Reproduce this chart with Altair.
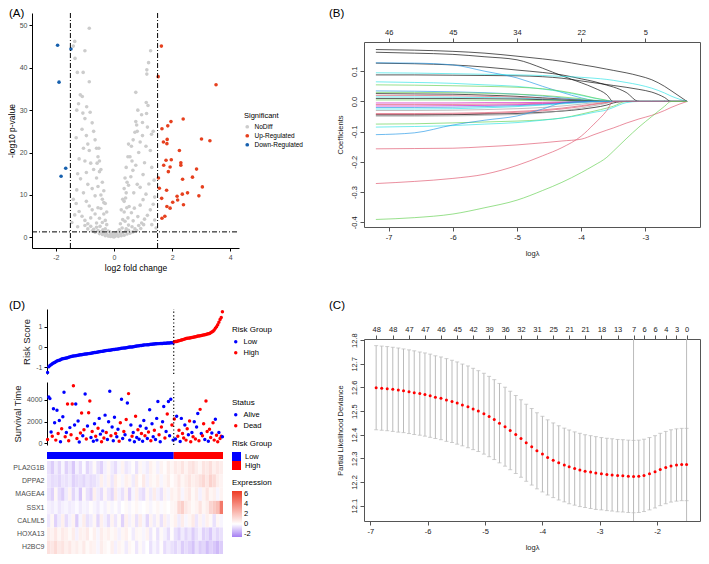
import altair as alt
import pandas as pd

FONT = "Liberation Sans"
W, H = 693, 548
MINUS = "replace(datum.label, '\u2212', '-')"

# ---------- panel placement inside the canvas (pixel ranges of each plot area) ----------
A_X, A_Y = [24, 231], [240, 5]
B_X, B_Y = [356, 692], [219, 34]
C_X, C_Y = [356, 692], [513, 331]
D_X = [39, 215]
RISK_Y, SURV_Y = [366, 301], [437, 374]
BAR_Y, HEAT_Y = [444, 451], [453, 546]

# ================= (A) volcano data =================
fc_cut, p_cut = 1.5, 1.3
nodiff_lfc = [
    -0.05, 0.05, -0.15, 0.12, -0.25, 0.22, -0.35, 0.30, -0.45, 0.40,
    -0.55, 0.50, -0.10, 0.10, -0.20, 0.18, -0.30, 0.28, -0.60, 0.62,
    -0.70, 0.72, -0.80, 0.85, 0.00, -0.02, 0.03, -0.08, -0.12, 0.15,
    -0.30, 0.35, -0.40, 0.45, -0.50, 0.55, -0.65, 0.65, -0.75, 0.78,
    -0.90, 0.92, -1.00, 1.02, -0.20, 0.25, -0.38, 0.42, -0.48, 0.50,
    -0.15, 0.20,
    -0.90, 0.95, -1.00, 1.05, -1.10, 1.15, -1.20, 1.25, -0.40, 0.38,
    -0.50, 0.48, -0.65, 0.60, -0.75, 0.70, -0.30, 0.30, -0.85, 0.90,
    -1.30, 1.35, -1.35, 1.40, -0.95, 1.00, -0.55, 0.52, -0.25, 0.22,
    -0.60, 0.66, -0.80, 0.82, -1.25, 1.30, -1.45, 1.45, -0.35, 0.35,
    -0.45, 0.44,
    -0.35, 0.35, -0.45, 0.42, -0.55, 0.50, -0.60, 0.58, -0.70, 0.65,
    -0.80, 0.75, -0.90, 0.90, -1.05, 1.10, -1.15, 1.20, -1.25, 1.30,
    -0.95, 1.00, -1.00, 1.05, -1.28, 1.38, -0.40, 0.40, -0.50, 0.45,
    -0.65, 0.68, -0.75, 0.80, -1.40, 1.40, -1.20, 1.25,
    -0.55, 0.55, -0.60, 0.60, -0.65, 0.66, -0.70, 0.72, -0.75, 0.78,
    -0.85, 0.85, -0.90, 0.90, -0.95, 0.98, -1.05, 1.10, -1.10, 1.15,
    -1.00, 0.95, -1.30, 1.35, -1.07, 1.12, -0.82, 0.82, -0.58, 0.62,
    1.29, 0.75, 0.80, 0.98,
    -0.85, -1.35, -1.40, -1.00, -1.34, -1.26, -1.06, -0.85, -1.16, -1.09,
    -1.22, -1.28, -0.94, 1.26, 1.19, 1.13, 1.13, 0.75, 1.11, 1.17,
    -0.25, -0.30, -0.35, -0.40, -0.45, -0.50, -0.52, 0.25, 0.30, 0.35,
    0.38, 0.42, 0.48, 0.50,
]
nodiff_p = [
    0.2, 0.3, 0.5, 0.6, 0.8, 0.9, 1.0, 1.1, 1.3, 1.4,
    1.6, 1.7, 1.0, 1.2, 1.5, 1.8, 2.0, 2.2, 2.4, 2.5,
    1.9, 2.0, 2.6, 2.8, 0.1, 0.6, 0.8, 0.4, 0.2, 0.25,
    0.4, 0.5, 0.7, 0.8, 0.9, 1.0, 1.2, 1.3, 1.5, 1.6,
    2.0, 2.1, 2.8, 3.0, 0.3, 0.4, 1.8, 2.0, 2.6, 2.9,
    1.3, 1.5,
    3.2, 3.4, 4.0, 4.3, 5.0, 5.2, 6.1, 6.5, 3.5, 3.8,
    4.5, 4.6, 5.5, 5.8, 6.5, 6.9, 4.0, 4.2, 7.4, 7.6,
    8.0, 7.8, 5.3, 4.1, 8.5, 8.9, 7.0, 7.3, 3.0, 3.2,
    3.4, 3.9, 4.6, 4.9, 2.5, 3.0, 3.5, 2.2, 5.5, 6.0,
    6.8, 7.0,
    8.2, 8.5, 10.0, 10.5, 12.0, 12.3, 14.0, 14.3, 16.0, 15.8,
    17.5, 17.0, 12.5, 11.8, 10.5, 10.2, 13.8, 12.6, 15.0, 16.5,
    15.3, 14.8, 18.0, 17.6, 11.2, 13.5, 9.0, 9.3, 15.5, 13.0,
    9.8, 10.5, 11.5, 12.5, 9.0, 9.5, 18.5, 20.5,
    19.0, 19.0, 21.0, 21.5, 23.0, 23.0, 25.0, 24.8, 27.0, 26.5,
    20.5, 20.0, 22.0, 22.5, 24.0, 24.0, 21.0, 21.5, 25.5, 26.0,
    28.0, 28.9, 23.5, 25.0, 29.3, 29.2, 29.5, 30.0, 17.5, 18.0,
    24.3, 27.3, 25.0, 27.1,
    49.3, 46.2, 45.1, 44.0, 42.2, 38.9, 38.9, 36.7, 33.6, 33.2,
    31.5, 30.0, 30.8, 44.0, 41.2, 39.5, 38.5, 34.2, 31.8, 31.1,
    6.0, 8.0, 11.0, 13.0, 16.0, 18.0, 21.0, 6.5, 9.0, 11.5,
    14.0, 16.5, 19.0, 22.0,
]
up_lfc = [1.63, 1.52, 3.51, 2.38, 1.96, 1.85, 1.65, 1.83, 1.70, 1.82,
          3.01, 3.30, 2.25, 1.97, 1.79, 2.30, 2.30, 1.71, 1.93, 2.84,
          1.87, 2.70, 2.36, 1.53, 3.04, 1.56, 1.81, 2.53, 2.35, 2.17,
          2.92, 1.64, 2.19, 2.02, 2.39, 1.82, 1.93, 1.75, 1.65]
up_p = [45.1, 37.9, 36.0, 27.9, 27.3, 26.3, 25.6, 23.1, 22.5, 22.1,
        23.2, 22.8, 20.5, 18.3, 18.2, 17.6, 17.0, 17.0, 16.6, 16.1,
        15.5, 14.2, 13.7, 14.0, 11.9, 11.6, 11.1, 10.5, 10.2, 9.7,
        9.8, 9.2, 8.8, 8.3, 7.7, 7.3, 6.9, 5.0, 4.5]
down_lfc = [-1.94, -1.48, -1.89, -1.66, -1.82]
down_p = [45.3, 44.4, 36.6, 16.3, 14.4]
sig_levels = ["NoDiff", "Up-Regulated", "Down-Regulated"]
sig_colors = ["#CCCCCC", "#E6401E", "#1660AE"]

# ================= (B) lasso coefficient paths =================
grid_b = [-7.2, -6.6, -6.0, -5.5, -5.0, -4.6, -4.3, -4.0, -3.8, -3.6, -3.5, -3.3, -3.1, -2.9, -2.7, -2.6, -2.35]
K, R, G, BL, CY, M, GR = "#000000", "#DF536B", "#61D04F", "#2297E6", "#28E2E5", "#CD0BBC", "#9E9E9E"
coef_colors = [K, K, K, K, BL, CY, CY, G, BL, G, K, R, CY, K, G, M, R, M, BL, CY, GR, R, R, K, GR,
               G, CY, BL, R, R, G]
coef_paths = [
    [0.172, 0.170, 0.166, 0.160, 0.150, 0.141, 0.133, 0.122, 0.115, 0.107, 0.103, 0.095, 0.085, 0.072, 0.050, 0.036, 0.0],
    [0.163, 0.160, 0.156, 0.148, 0.138, 0.110, 0.085, 0.062, 0.045, 0.022, 0.0, 0.0, 0.0, 0.0, 0.0, 0.0, 0.0],
    [0.127, 0.125, 0.121, 0.114, 0.104, 0.096, 0.088, 0.075, 0.066, 0.054, 0.048, 0.030, 0.0, 0.0, 0.0, 0.0, 0.0],
    [0.088, 0.088, 0.087, 0.086, 0.085, 0.082, 0.077, 0.068, 0.062, 0.056, 0.053, 0.047, 0.040, 0.031, 0.013, 0.0, 0.0],
    [0.128, 0.127, 0.121, 0.100, 0.078, 0.050, 0.030, 0.012, 0.003, 0.0, 0.0, 0.0, 0.0, 0.0, 0.0, 0.0, 0.0],
    [0.095, 0.094, 0.092, 0.090, 0.088, 0.086, 0.083, 0.080, 0.077, 0.073, 0.070, 0.063, 0.055, 0.044, 0.028, 0.018, 0.0],
    [0.065, 0.063, 0.060, 0.055, 0.050, 0.041, 0.032, 0.020, 0.011, 0.003, 0.0, 0.0, 0.0, 0.0, 0.0, 0.0, 0.0],
    [0.055, 0.054, 0.052, 0.050, 0.047, 0.042, 0.034, 0.022, 0.012, 0.004, 0.0, 0.0, 0.0, 0.0, 0.0, 0.0, 0.0],
    [0.035, 0.034, 0.032, 0.029, 0.024, 0.018, 0.012, 0.006, 0.002, 0.0, 0.0, 0.0, 0.0, 0.0, 0.0, 0.0, 0.0],
    [0.030, 0.030, 0.029, 0.027, 0.024, 0.020, 0.015, 0.009, 0.004, 0.001, 0.0, 0.0, 0.0, 0.0, 0.0, 0.0, 0.0],
    [0.026, 0.025, 0.024, 0.021, 0.017, 0.012, 0.008, 0.004, 0.001, 0.0, 0.0, 0.0, 0.0, 0.0, 0.0, 0.0, 0.0],
    [0.020, 0.020, 0.019, 0.017, 0.014, 0.010, 0.006, 0.002, 0.0, 0.0, 0.0, 0.0, 0.0, 0.0, 0.0, 0.0, 0.0],
    [0.015, 0.015, 0.014, 0.013, 0.011, 0.008, 0.005, 0.002, 0.0, 0.0, 0.0, 0.0, 0.0, 0.0, 0.0, 0.0, 0.0],
    [0.010, 0.010, 0.010, 0.009, 0.008, 0.006, 0.004, 0.002, 0.0, 0.0, 0.0, 0.0, 0.0, 0.0, 0.0, 0.0, 0.0],
    [0.005, 0.005, 0.005, 0.004, 0.004, 0.003, 0.002, 0.001, 0.0, 0.0, 0.0, 0.0, 0.0, 0.0, 0.0, 0.0, 0.0],
    [-0.005, -0.005, -0.005, -0.004, -0.004, -0.003, -0.002, -0.001, 0.0, 0.0, 0.0, 0.0, 0.0, 0.0, 0.0, 0.0, 0.0],
    [-0.010, -0.010, -0.010, -0.009, -0.008, -0.006, -0.004, -0.002, 0.0, 0.0, 0.0, 0.0, 0.0, 0.0, 0.0, 0.0, 0.0],
    [-0.015, -0.015, -0.014, -0.013, -0.011, -0.008, -0.005, -0.002, 0.0, 0.0, 0.0, 0.0, 0.0, 0.0, 0.0, 0.0, 0.0],
    [-0.020, -0.020, -0.019, -0.017, -0.014, -0.010, -0.006, -0.002, 0.0, 0.0, 0.0, 0.0, 0.0, 0.0, 0.0, 0.0, 0.0],
    [-0.025, -0.025, -0.024, -0.021, -0.017, -0.012, -0.008, -0.004, -0.001, 0.0, 0.0, 0.0, 0.0, 0.0, 0.0, 0.0, 0.0],
    [-0.030, -0.030, -0.029, -0.027, -0.024, -0.020, -0.015, -0.009, -0.004, -0.001, 0.0, 0.0, 0.0, 0.0, 0.0, 0.0, 0.0],
    [-0.040, -0.040, -0.039, -0.037, -0.033, -0.028, -0.022, -0.014, -0.008, -0.003, 0.0, 0.0, 0.0, 0.0, 0.0, 0.0, 0.0],
    [-0.043, -0.043, -0.042, -0.040, -0.036, -0.031, -0.025, -0.017, -0.010, -0.004, 0.0, 0.0, 0.0, 0.0, 0.0, 0.0, 0.0],
    [-0.045, -0.045, -0.044, -0.042, -0.040, -0.036, -0.032, -0.026, -0.020, -0.012, -0.005, 0.0, 0.0, 0.0, 0.0, 0.0, 0.0],
    [-0.049, -0.049, -0.048, -0.046, -0.043, -0.038, -0.031, -0.022, -0.014, -0.006, 0.0, 0.0, 0.0, 0.0, 0.0, 0.0, 0.0],
    [-0.075, -0.074, -0.071, -0.068, -0.065, -0.061, -0.055, -0.042, -0.032, -0.022, -0.016, 0.0, 0.0, 0.0, 0.0, 0.0, 0.0],
    [-0.085, -0.083, -0.080, -0.075, -0.070, -0.062, -0.055, -0.045, -0.036, -0.028, -0.020, -0.004, 0.0, 0.0, 0.0, 0.0, 0.0],
    [-0.110, -0.104, -0.078, -0.062, -0.048, -0.025, -0.005, 0.0, 0.0, 0.0, 0.0, 0.0, 0.0, 0.0, 0.0, 0.0, 0.0],
    [-0.157, -0.156, -0.155, -0.150, -0.144, -0.137, -0.131, -0.125, -0.110, -0.095, -0.088, -0.072, -0.058, -0.046, -0.030, -0.020, 0.0],
    [-0.272, -0.265, -0.255, -0.241, -0.212, -0.180, -0.153, -0.115, -0.075, -0.030, 0.0, 0.0, 0.0, 0.0, 0.0, 0.0, 0.0],
    [-0.391, -0.385, -0.373, -0.352, -0.327, -0.295, -0.268, -0.236, -0.212, -0.185, -0.165, -0.124, -0.085, -0.050, -0.016, 0.0, 0.0],
]
b_top_pos = [-7, -6, -5, -4, -3]
b_top_lab = ["46", "45", "34", "22", "5"]

# ================= (C) cross-validation curve =================
c_loglam = [-6.898, -6.801, -6.705, -6.608, -6.512, -6.421, -6.325, -6.234, -6.137, -6.047,
            -5.956, -5.865, -5.768, -5.672, -5.575, -5.485, -5.394, -5.297, -5.207, -5.116,
            -5.019, -4.928, -4.838, -4.747, -4.650, -4.560, -4.463, -4.372, -4.281, -4.185,
            -4.094, -3.998, -3.907, -3.810, -3.714, -3.617, -3.532, -3.436, -3.345, -3.254,
            -3.158, -3.067, -2.970, -2.874, -2.783, -2.687, -2.596, -2.500, -2.409, -2.318,
            -2.227, -2.131, -2.034, -1.943, -1.847, -1.756, -1.660, -1.569, -1.484]
c_mean = [12.599, 12.597, 12.595, 12.592, 12.589, 12.586, 12.582, 12.578, 12.574, 12.570,
          12.565, 12.559, 12.554, 12.547, 12.541, 12.534, 12.526, 12.518, 12.509, 12.500,
          12.489, 12.477, 12.464, 12.449, 12.434, 12.418, 12.401, 12.384, 12.366, 12.349,
          12.332, 12.318, 12.304, 12.292, 12.281, 12.272, 12.264, 12.257, 12.251, 12.246,
          12.242, 12.238, 12.235, 12.232, 12.230, 12.227, 12.226, 12.224, 12.223, 12.224,
          12.228, 12.235, 12.243, 12.253, 12.261, 12.268, 12.272, 12.274, 12.274]
c_se = [0.178, 0.178, 0.178, 0.178, 0.178, 0.177, 0.177, 0.177, 0.176, 0.176,
        0.176, 0.175, 0.175, 0.175, 0.174, 0.174, 0.173, 0.173, 0.172, 0.171,
        0.171, 0.170, 0.169, 0.168, 0.167, 0.166, 0.165, 0.164, 0.163, 0.162,
        0.161, 0.160, 0.159, 0.158, 0.157, 0.156, 0.156, 0.155, 0.155, 0.154,
        0.154, 0.154, 0.153, 0.153, 0.153, 0.153, 0.153, 0.153, 0.153, 0.153,
        0.153, 0.153, 0.153, 0.153, 0.153, 0.153, 0.153, 0.153, 0.153]
c_top_pos = [-6.898, -6.608, -6.325, -6.047, -5.768, -5.485, -5.207, -4.928, -4.650, -4.372, -4.094,
             -3.810, -3.532, -3.254, -2.970, -2.687, -2.409, -2.227, -2.034, -1.847, -1.660, -1.484]
c_top_lab = ["48", "48", "47", "47", "46", "45", "42", "39", "36", "32", "31",
             "25", "21", "21", "18", "13", "7", "6", "6", "4", "3", "0"]
c_vlines = [-2.409, -1.484]

# ================= (D) risk score / survival / heatmap =================
risk_score = [
    -1.25, -0.97, -0.90, -0.86, -0.82, -0.78, -0.76, -0.72, -0.68,
    -0.66, -0.64, -0.62, -0.58, -0.57,
    -0.56, -0.55, -0.53, -0.52, -0.50, -0.48, -0.46, -0.45,
    -0.44, -0.43, -0.42, -0.41, -0.40, -0.39, -0.38, -0.37, -0.36, -0.35, -0.34,
    -0.34, -0.33, -0.32, -0.31, -0.30, -0.29, -0.28, -0.27, -0.26, -0.25, -0.24, -0.23,
    -0.22, -0.21, -0.20, -0.19, -0.18, -0.17, -0.16, -0.15, -0.15, -0.14, -0.13, -0.12, -0.12, -0.11,
    -0.10, -0.09, -0.08, -0.07, -0.06, -0.05, -0.04, -0.04, -0.03, -0.02, -0.01, 0.00, 0.00,
    0.01, 0.02, 0.03, 0.04, 0.05, 0.06, 0.07, 0.08, 0.08, 0.09, 0.10,
    0.11, 0.11, 0.12, 0.12, 0.13, 0.14, 0.14, 0.15, 0.15, 0.16, 0.16, 0.17, 0.17, 0.18,
    0.18, 0.18, 0.19, 0.19, 0.19, 0.20, 0.20, 0.20, 0.21, 0.21, 0.21,
    0.26, 0.27, 0.28, 0.30, 0.31, 0.33, 0.35, 0.36, 0.38, 0.40, 0.42,
    0.43, 0.44, 0.45, 0.46, 0.47, 0.48, 0.50, 0.51, 0.52, 0.54, 0.55,
    0.56, 0.57, 0.58, 0.60, 0.61, 0.62, 0.64, 0.66,
    0.67, 0.70, 0.74, 0.78, 0.84, 0.92, 1.00, 1.10, 1.22, 1.35, 1.45, 1.74,
]
n_low = 108
surv_time = [
    350, 4260, 4120, 1050, 650, 3190, 1900, 300, 3040, 900,
    2100, 150, 1350, 2450, 4700, 600, 1000, 3620, 250, 1450,
    800, 3620, 5300, 1700, 3620, 450, 2050, 120, 950, 2800,
    700, 1250, 4550, 400, 1600, 2810, 3910, 550, 1100, 200,
    1800, 650, 300, 1400, 2300, 850, 150, 1150, 500, 2600,
    1000, 350, 2000, 4800, 700, 1500, 250, 2400, 900, 600,
    1300, 200, 1900, 4060, 450, 1100, 800, 2200, 3710, 4580,
    300, 1700, 650, 1000, 150, 2500, 550, 1250, 380, 1600,
    900, 200, 2100, 700, 1400, 450, 1050, 3100, 250, 1800,
    600, 1200, 350, 2300, 3860, 800, 150, 1500, 2000, 3390,
    500, 1100, 2700, 3860, 700, 4060, 1700, 300,
    2250, 400, 2500, 650, 1200, 180, 2300, 900, 500, 1700,
    300, 1350, 800, 2050, 150, 1000, 600, 2000, 400, 1500,
    2750, 250, 3130, 900, 700, 1800, 350, 3910, 1100, 200,
    1300, 550, 950, 1900, 300, 2230, 750, 150, 1000, 450,
    650, 600,
]
surv_dead = [
    1, 0, 0, 0, 1, 0, 0, 1, 0, 1,
    0, 0, 1, 0, 0, 1, 0, 1, 1, 0,
    1, 1, 1, 0, 0, 1, 0, 0, 1, 1,
    0, 1, 0, 1, 0, 1, 1, 0, 1, 0,
    0, 1, 0, 1, 0, 0, 1, 0, 1, 0,
    1, 0, 0, 0, 1, 0, 0, 0, 1, 0,
    0, 1, 1, 0, 0, 1, 0, 1, 0, 1,
    0, 0, 1, 0, 0, 1, 0, 1, 0, 0,
    1, 0, 0, 1, 0, 0, 1, 0, 1, 0,
    0, 1, 0, 0, 0, 1, 0, 1, 0, 0,
    1, 0, 1, 0, 0, 0, 1, 0,
    1, 0, 0, 1, 1, 0, 0, 1, 1, 0,
    1, 1, 0, 1, 1, 0, 1, 0, 1, 0,
    0, 1, 1, 0, 1, 1, 0, 1, 1, 0,
    1, 1, 0, 1, 1, 0, 1, 1, 0, 1,
    1, 0,
]
genes = ["PLA2G1B", "DPPA2", "MAGEA4", "SSX1", "CALML5", "HOXA13", "H2BC9"]
samples_per_col = 3
expr_pla2g1b = [-0.6, -1.0, -0.4, -0.8, -0.2, -0.9, -0.5, -1.1, -0.3, -0.7,
                -0.1, -0.8, -0.5, 0.2, -0.6, -0.9, -0.3, 0.3, -0.4, -0.7,
                -0.2, 0.4, -0.5, -0.3, 0.1, -0.6, 0.3, -0.2, -0.4, 0.5,
                0.2, -0.3, 0.4, 0.1, 0.6, 0.3, 0.7, 0.5, 0.9, 0.4,
                0.8, 1.0, 0.6, 0.3, 0.9, 0.7, 1.1, 0.5, 0.8, 0.6]
expr_dppa2 = [-0.5, -0.7, -0.6, -0.8, -0.5, -0.6, -0.4, -0.9, -0.7, -0.6,
              -0.8, -0.5, -0.7, -0.6, -0.4, 0.5, -0.3, 0.4, -0.5, 0.6,
              0.2, -0.2, 0.5, 0.3, -0.4, 0.6, 0.1, 0.7, -0.3, 0.4,
              0.2, 0.5, -0.2, 0.3, 0.6, 0.1, 0.4, 0.8, 0.3, 0.6,
              0.9, 0.5, 0.7, 1.0, 1.3, 0.8, 1.5, 1.2, 0.6, 0.4]
expr_magea4 = [-0.6, -0.9, 0.3, -0.7, -1.0, -0.4, 0.4, -0.8, -0.3, -1.1,
               0.2, -0.6, -0.9, 0.5, -0.4, -0.7, 0.3, -0.5, -0.8, 0.6,
               -0.3, -0.6, 0.4, -0.9, -0.2, 0.5, -0.5, -0.7, 0.3, -0.4,
               0.6, -0.3, -0.6, 0.4, -0.2, 0.5, 0.3, 0.7, -0.2, 0.5,
               0.8, 0.2, 0.6, -0.3, 0.4, 0.9, 0.3, 0.5, -0.2, 0.4]
expr_ssx1 = [-0.3, -0.4, -0.2, -0.5, -0.3, -0.2, -0.4, -0.3, -0.1, -0.4,
             -0.2, -0.3, 0.1, -0.2, -0.4, -0.1, -0.3, 0.2, -0.2, 0.1,
             -0.3, 0.0, 0.2, -0.2, 0.1, 0.3, -0.1, 0.0, 0.2, -0.2,
             0.1, 0.3, -0.1, 0.2, 0.0, 0.3, 0.4, 1.3, 1.6, 0.8,
             0.5, 0.2, 0.4, 0.9, 0.3, 0.6, 1.4, 1.8, 2.2, 4.5]
expr_calml5 = [-0.5, 0.3, -0.9, -0.4, 0.5, -0.7, -0.3, 0.4, -1.0, -0.2,
               0.6, -0.6, -0.4, 0.3, -0.8, 0.5, -0.3, -0.7, 0.4, -0.5,
               0.2, -0.9, 0.5, -0.3, 0.3, -0.6, 0.6, -0.2, -0.8, 0.4,
               -0.4, 0.3, -0.6, 0.5, -0.3, 0.2, 0.5, -0.4, 0.6, -0.2,
               0.3, 0.7, -0.5, 0.4, -0.3, 0.5, 0.2, -0.6, 0.3, -0.2]
expr_hoxa13 = [0.6, 0.4, 0.8, 0.3, 0.7, 0.5, 0.2, 0.6, -0.3, 0.5,
               0.4, 0.7, 0.1, 0.5, -0.2, 0.6, 0.3, 0.5, 0.2, 0.4,
               -0.3, 0.3, 0.5, 0.1, -0.4, 0.3, 0.2, -0.2, 0.4, -0.5,
               0.1, -0.6, 0.2, -0.3, -0.7, 0.1, -0.6, -0.9, -0.4, -0.8,
               -0.5, -1.0, -0.6, -0.3, -0.9, -0.7, -1.1, -0.5, -0.8, -0.6]
expr_h2bc9 = [1.0, 0.8, 1.2, 0.7, 0.9, 0.5, 0.8, 0.4, 0.6, 0.3,
              0.7, 0.2, 0.5, 0.4, -0.2, 0.6, 0.3, 0.1, 0.5, -0.3,
              0.4, 0.2, -0.4, 0.3, 0.1, -0.5, 0.2, -0.3, 0.0, -0.6,
              -0.2, -0.5, 0.1, -0.7, -0.4, -0.6, -0.8, -0.5, -1.0, -0.7,
              -0.9, -1.2, -0.6, -1.0, -0.8, -1.3, -0.9, -1.1, -1.4, -1.0]
expr_rows = [expr_pla2g1b, expr_dppa2, expr_magea4, expr_ssx1, expr_calml5, expr_hoxa13, expr_h2bc9]


# ---------------- helpers ----------------
def axis(kind, **kw):
    if kind == "gg":
        base = dict(domainColor="#000000", tickColor="#000000", tickSize=3, labelColor="#4D4D4D",
                    labelFontSize=7, titleFontSize=8.5, titleColor="#000000")
    else:
        base = dict(domainColor="#555555", tickColor="#555555", tickSize=4, labelColor="#222222",
                    labelFontSize=7.5, titleFontSize=7.5, titleColor="#222222")
    base.update(dict(domainWidth=1, tickWidth=1, labelFont=FONT, titleFont=FONT, titleFontWeight="normal",
                     grid=False, labelPadding=2, labelExpr=MINUS, labelOverlap=False, labelFlush=False))
    base.update(kw)
    return alt.Axis(**base)


def label_map(vals, labs):
    expr = "''"
    for v, l in reversed(list(zip(vals, labs))):
        expr = f"datum.value == {v} ? '{l}' : {expr}"
    return expr


def legend(title, x, y, **kw):
    base = dict(title=title, orient="none", legendX=x, legendY=y, titleFont=FONT, labelFont=FONT,
                titleFontWeight="normal", titleColor="#000000", labelColor="#000000",
                titleFontSize=8, labelFontSize=7.5, titlePadding=4, rowPadding=2)
    base.update(kw)
    return alt.Legend(**base)


def panel_label(txt, x, y):
    return alt.Chart(pd.DataFrame({"t": [txt]})).mark_text(
        align="left", baseline="top", fontSize=11.5, font=FONT, color="#000000"
    ).encode(text="t:N", x=alt.value(x), y=alt.value(y))


# ================= build (A) =================
A_XDOM, A_YDOM = [-2.82, 4.3], [-2.5, 52.9]
sa_x = alt.Scale(domain=A_XDOM, range=A_X, nice=False, zero=False)
sa_y = alt.Scale(domain=A_YDOM, range=A_Y, nice=False, zero=False)
df_a = pd.DataFrame({
    "lfc": nodiff_lfc + up_lfc + down_lfc,
    "nlp": nodiff_p + up_p + down_p,
    "sig": [sig_levels[0]] * len(nodiff_lfc) + [sig_levels[1]] * len(up_lfc) + [sig_levels[2]] * len(down_lfc),
})
a_pts = alt.Chart(df_a).mark_circle(size=13, opacity=1).encode(
    x=alt.X("lfc:Q", scale=sa_x, axis=axis("gg", values=[-2, 0, 2, 4], title="log2 fold change",
                                          orient="bottom", offset=A_Y[0] - H, titlePadding=3)),
    y=alt.Y("nlp:Q", scale=sa_y, axis=axis("gg", values=[0, 10, 20, 30, 40, 50], title="-log10 p-value",
                                          orient="left", offset=-A_X[0], titlePadding=3)),
    color=alt.Color("sig:N", scale=alt.Scale(domain=sig_levels, range=sig_colors),
                    legend=legend("Significant", 236, 104, symbolType="circle", symbolSize=14,
                                  titleFontSize=7.5, labelFontSize=6.5)),
)
df_av = pd.DataFrame({"lfc": [-fc_cut, fc_cut], "lo": [A_YDOM[0]] * 2, "hi": [A_YDOM[1]] * 2})
a_v = alt.Chart(df_av).mark_rule(color="#000000", strokeDash=[5, 2, 1, 2], strokeWidth=1).encode(
    x=alt.X("lfc:Q", scale=sa_x, axis=None), y=alt.Y("lo:Q", scale=sa_y, axis=None), y2=alt.Y2("hi"))
df_ah = pd.DataFrame({"nlp": [p_cut], "lo": [A_XDOM[0]], "hi": [A_XDOM[1]]})
a_h = alt.Chart(df_ah).mark_rule(color="#000000", strokeDash=[5, 2, 1, 2], strokeWidth=1).encode(
    y=alt.Y("nlp:Q", scale=sa_y, axis=None), x=alt.X("lo:Q", scale=sa_x, axis=None), x2=alt.X2("hi"))
panel_a = alt.layer(a_pts, a_v, a_h, panel_label("(A)", 1, 0)).resolve_axis(x="independent", y="independent")

# ================= build (B) =================
B_XDOM, B_YDOM = [-7.385, -2.148], [-0.416, 0.197]
sb_x = alt.Scale(domain=B_XDOM, range=B_X, nice=False, zero=False)
sb_y = alt.Scale(domain=B_YDOM, range=B_Y, nice=False, zero=False)
path_names = [f"p{k:02d}" for k in range(len(coef_paths))]
df_b = pd.DataFrame([{"path": path_names[k], "loglam": g, "coef": v}
                     for k, vals in enumerate(coef_paths) for g, v in zip(grid_b, vals)])
b_lines = alt.Chart(df_b).mark_line(strokeWidth=1, opacity=0.65, interpolate="monotone").encode(
    x=alt.X("loglam:Q", scale=sb_x, axis=axis("r", values=[-7, -6, -5, -4, -3], title="logλ", orient="bottom",
                                             offset=B_Y[0] - H, titlePadding=9)),
    y=alt.Y("coef:Q", scale=sb_y, axis=axis("r", values=[-0.4, -0.3, -0.2, -0.1, 0.0, 0.1], format=".1f",
                                           title="Coefficients", orient="left", offset=-B_X[0],
                                           labelAngle=270, labelAlign="center", labelBaseline="bottom",
                                           titlePadding=6)),
    color=alt.Color("path:N", scale=alt.Scale(domain=path_names, range=coef_colors), legend=None),
    detail="path:N",
)
b_top = alt.Chart(pd.DataFrame({"loglam": b_top_pos})).mark_point(opacity=0).encode(
    x=alt.X("loglam:Q", scale=sb_x, axis=axis("r", values=b_top_pos, labelExpr=label_map(b_top_pos, b_top_lab),
                                             title=None, orient="top", offset=-B_Y[1])))
b_right = alt.Chart(pd.DataFrame({"coef": [0.0]})).mark_point(opacity=0).encode(
    y=alt.Y("coef:Q", scale=sb_y, axis=axis("r", labels=False, ticks=False, title=None, orient="right",
                                           offset=B_X[1] - W)))
panel_b = alt.layer(b_lines, b_top, b_right, panel_label("(B)", 321, 0)).resolve_axis(x="independent", y="independent")

# ================= build (C) =================
C_XDOM, C_YDOM = [-7.11, -1.25], [12.035, 12.805]
sc_x = alt.Scale(domain=C_XDOM, range=C_X, nice=False, zero=False)
sc_y = alt.Scale(domain=C_YDOM, range=C_Y, nice=False, zero=False)
df_c = pd.DataFrame({"loglam": c_loglam, "dev": c_mean,
                     "lo": [m - s for m, s in zip(c_mean, c_se)], "hi": [m + s for m, s in zip(c_mean, c_se)]})
c_bars = alt.Chart(df_c).mark_rule(color="#BBBBBB", strokeWidth=1).encode(
    x=alt.X("loglam:Q", scale=sc_x, axis=axis("r", values=[-7, -6, -5, -4, -3, -2], title="logλ",
                                             orient="bottom", offset=C_Y[0] - H, titlePadding=9)),
    y=alt.Y("lo:Q", scale=sc_y, axis=axis("r", values=[12.1, 12.2, 12.3, 12.4, 12.5, 12.6, 12.7, 12.8],
                                         format=".1f", title="Partial Likelihood Deviance", orient="left",
                                         offset=-C_X[0], labelAngle=270, labelAlign="center",
                                         labelBaseline="bottom", titlePadding=6)),
    y2=alt.Y2("hi"),
)
c_cap_lo = alt.Chart(df_c).mark_tick(orient="horizontal", size=4, thickness=1, color="#BBBBBB").encode(
    x=alt.X("loglam:Q", scale=sc_x, axis=None), y=alt.Y("lo:Q", scale=sc_y, axis=None))
c_cap_hi = alt.Chart(df_c).mark_tick(orient="horizontal", size=4, thickness=1, color="#BBBBBB").encode(
    x=alt.X("loglam:Q", scale=sc_x, axis=None), y=alt.Y("hi:Q", scale=sc_y, axis=None))
df_cv = pd.DataFrame({"loglam": c_vlines, "lo": [C_YDOM[0]] * 2, "hi": [C_YDOM[1]] * 2})
c_v = alt.Chart(df_cv).mark_rule(color="#BBBBBB", strokeWidth=1).encode(
    x=alt.X("loglam:Q", scale=sc_x, axis=None), y=alt.Y("lo:Q", scale=sc_y, axis=None), y2=alt.Y2("hi"))
c_pts = alt.Chart(df_c).mark_circle(size=9, color="#FF0000", opacity=1).encode(
    x=alt.X("loglam:Q", scale=sc_x, axis=None), y=alt.Y("dev:Q", scale=sc_y, axis=None))
c_top = alt.Chart(pd.DataFrame({"loglam": c_top_pos})).mark_point(opacity=0).encode(
    x=alt.X("loglam:Q", scale=sc_x, axis=axis("r", values=c_top_pos, labelExpr=label_map(c_top_pos, c_top_lab),
                                             title=None, orient="top", offset=-C_Y[1])))
c_right = alt.Chart(pd.DataFrame({"lo": [12.4]})).mark_point(opacity=0).encode(
    y=alt.Y("lo:Q", scale=sc_y, axis=axis("r", labels=False, ticks=False, title=None, orient="right",
                                         offset=C_X[1] - W)))
panel_c = alt.layer(c_v, c_bars, c_cap_lo, c_cap_hi, c_pts, c_top, c_right,
                    panel_label("(C)", 321, 292)).resolve_axis(x="independent", y="independent")

# ================= build (D) =================
n_samp = len(risk_score)
groups = ["Low"] * n_low + ["High"] * (n_samp - n_low)
grp_scale = alt.Scale(domain=["Low", "High"], range=["#0000FF", "#FF0000"])
sd_x = alt.Scale(domain=[0, n_samp], range=D_X, nice=False, zero=False)
RISK_DOM, SURV_DOM = [-1.32, 1.87], [-150, 5650]
sr_y = alt.Scale(domain=RISK_DOM, range=RISK_Y, nice=False, zero=False)
ss_y = alt.Scale(domain=SURV_DOM, range=SURV_Y, nice=False, zero=False)

df_r = pd.DataFrame({"pos": [i + 0.5 for i in range(n_samp)], "score": risk_score, "group": groups})
r_pts = alt.Chart(df_r).mark_circle(size=12, opacity=1).encode(
    x=alt.X("pos:Q", scale=sd_x, axis=None),
    y=alt.Y("score:Q", scale=sr_y, axis=axis("gg", values=[-1, 0, 1], title="Risk Score", orient="left",
                                            offset=-D_X[0], titlePadding=4, titleFontSize=9.5,
                                            titleColor="#1A1A1A")),
    color=alt.Color("group:N", scale=grp_scale,
                    legend=legend("Risk Group", 224, 318, symbolType="circle", symbolSize=12)),
)
df_rr = pd.DataFrame({"pos": [n_low], "lo": [RISK_DOM[0]], "hi": [RISK_DOM[1]]})
r_rule = alt.Chart(df_rr).mark_rule(color="#000000", strokeDash=[1.2, 2.4], strokeWidth=1.2).encode(
    x=alt.X("pos:Q", scale=sd_x, axis=None), y=alt.Y("lo:Q", scale=sr_y, axis=None), y2=alt.Y2("hi"))
panel_risk = alt.layer(r_pts, r_rule, panel_label("(D)", 1, 292)).resolve_axis(x="independent", y="independent")

df_s = pd.DataFrame({"pos": [i + 0.5 for i in range(n_samp)], "time": surv_time,
                     "status": ["Dead" if d else "Alive" for d in surv_dead]})
s_pts = alt.Chart(df_s).mark_circle(size=12, opacity=1).encode(
    x=alt.X("pos:Q", scale=sd_x, axis=None),
    y=alt.Y("time:Q", scale=ss_y, axis=axis("gg", values=[0, 2000, 4000], format="d", title="Survival Time",
                                           orient="left", offset=-D_X[0], titlePadding=4, titleFontSize=9.5,
                                           titleColor="#1A1A1A")),
    color=alt.Color("status:N", scale=alt.Scale(domain=["Alive", "Dead"], range=["#0000FF", "#FF0000"]),
                    legend=legend("Status", 224, 391, symbolType="circle", symbolSize=12)),
)
df_sr = pd.DataFrame({"pos": [n_low], "lo": [SURV_DOM[0]], "hi": [SURV_DOM[1]]})
s_rule = alt.Chart(df_sr).mark_rule(color="#000000", strokeDash=[1.2, 2.4], strokeWidth=1.2).encode(
    x=alt.X("pos:Q", scale=sd_x, axis=None), y=alt.Y("lo:Q", scale=ss_y, axis=None), y2=alt.Y2("hi"))
panel_surv = alt.layer(s_pts, s_rule).resolve_axis(x="independent", y="independent")

# group bar: runs of identical group labels
runs = []
for i, g in enumerate(groups):
    if runs and runs[-1]["group"] == g:
        runs[-1]["end"] = i + 1
    else:
        runs.append({"group": g, "start": i, "end": i + 1, "track": "Risk Group"})
df_bar = pd.DataFrame(runs)
panel_bar = alt.Chart(df_bar).mark_rect(strokeWidth=0).encode(
    x=alt.X("start:Q", scale=sd_x, axis=None), x2=alt.X2("end"),
    y=alt.Y("track:N", scale=alt.Scale(range=BAR_Y, paddingInner=0, paddingOuter=0), axis=None),
    color=alt.Color("group:N", scale=grp_scale,
                    legend=legend("Risk Group", 224, 432, symbolType="square", symbolSize=81,
                                  symbolStrokeWidth=0, rowPadding=0)),
)

heat_rows = []
for gname, vals in zip(genes, expr_rows):
    for c, v in enumerate(vals):
        heat_rows.append({"gene": gname, "x0": c * samples_per_col, "x1": (c + 1) * samples_per_col, "val": v})
df_h = pd.DataFrame(heat_rows)
panel_heat = alt.Chart(df_h).mark_rect(strokeWidth=0).encode(
    x=alt.X("x0:Q", scale=sd_x, axis=None), x2=alt.X2("x1"),
    y=alt.Y("gene:N", sort=genes, scale=alt.Scale(range=HEAT_Y, paddingInner=0, paddingOuter=0),
            axis=axis("gg", domain=False, ticks=False, title=None, orient="left", offset=-D_X[0],
                      labelExpr="datum.label", labelPadding=3)),
    color=alt.Color("val:Q", scale=alt.Scale(domain=[-2.6, 0, 6.6], range=["#A57EF2", "#FFFFFF", "#EE3B25"],
                                             interpolate="rgb"),
                    legend=legend("Expression", 224, 471, gradientLength=46, gradientThickness=10,
                                  values=[6, 4, 2, 0, -2], labelExpr=MINUS, direction="vertical")),
)

chart = alt.layer(
    panel_a, panel_b, panel_c, panel_risk, panel_surv, panel_bar, panel_heat
).resolve_scale(
    x="independent", y="independent", color="independent"
).resolve_axis(
    x="independent", y="independent"
).resolve_legend(
    color="independent"
).properties(
    width=W, height=H, autosize=alt.AutoSizeParams(type="none"), padding=0
).configure(font=FONT).configure_view(stroke=None)

chart.save("out.html", embed_options={"renderer": "svg", "actions": False})
